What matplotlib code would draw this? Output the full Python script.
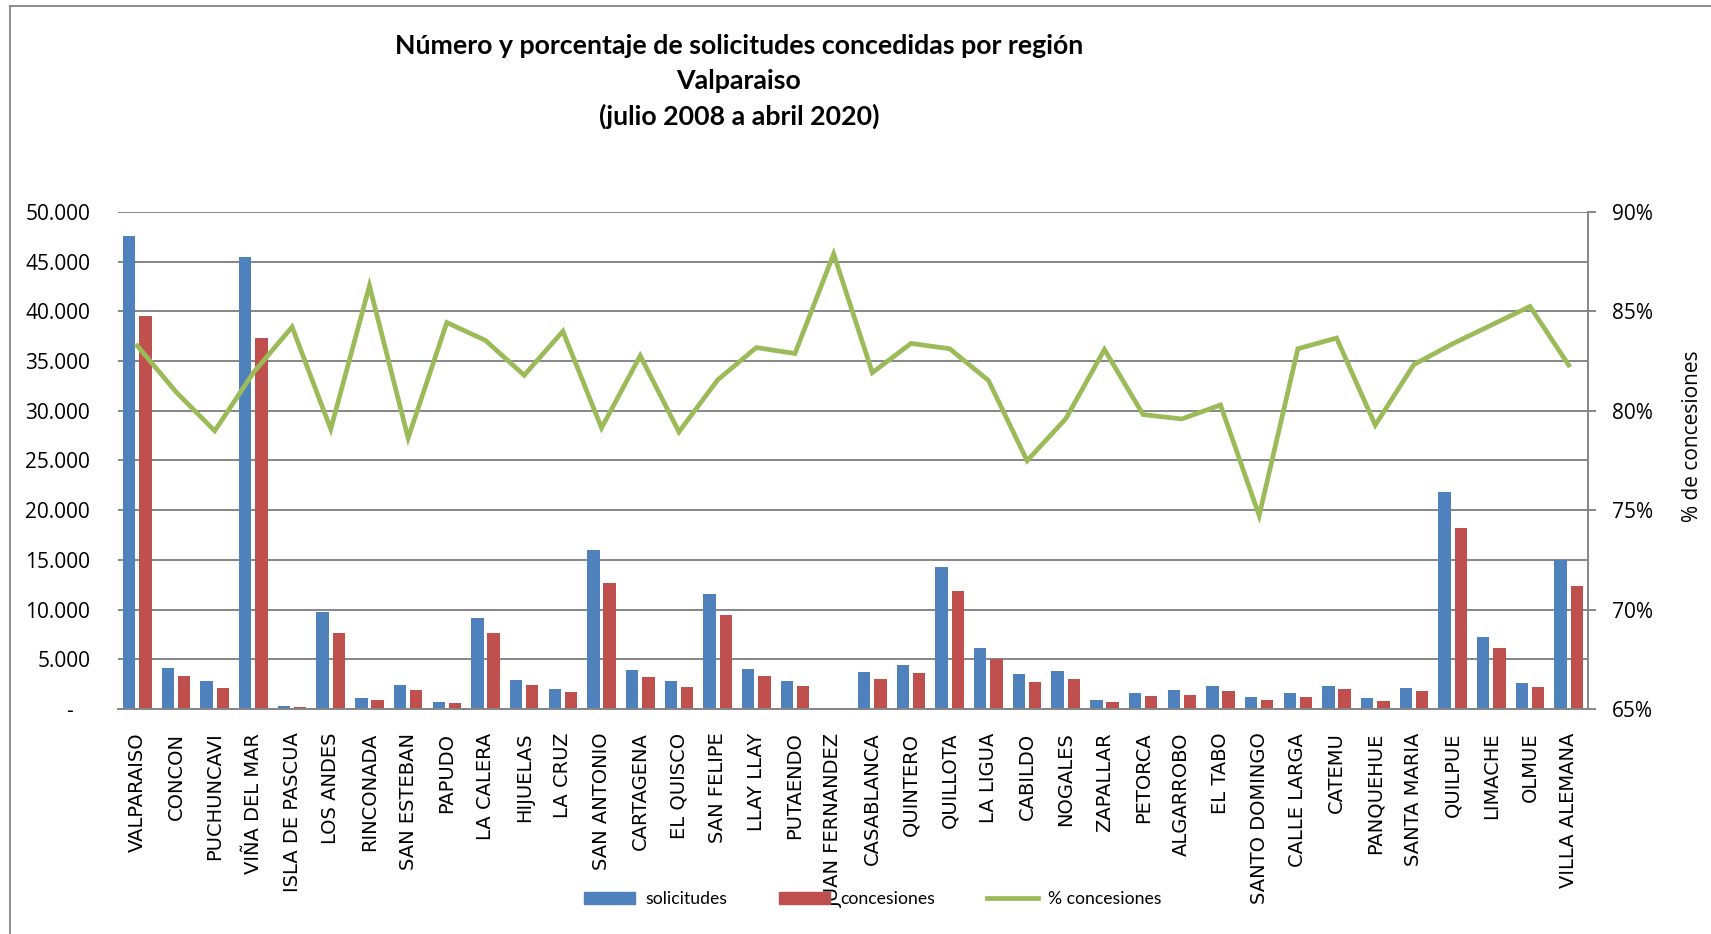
import matplotlib

matplotlib.use("Agg")
import matplotlib.pyplot as plt
import numpy as np
from matplotlib.lines import Line2D
from matplotlib.patches import Patch
from matplotlib.ticker import FuncFormatter, MultipleLocator

comunas = [
    "VALPARAISO", "CONCON", "PUCHUNCAVI", "VIÑA DEL MAR", "ISLA DE PASCUA",
    "LOS ANDES", "RINCONADA", "SAN ESTEBAN", "PAPUDO", "LA CALERA",
    "HIJUELAS", "LA CRUZ", "SAN ANTONIO", "CARTAGENA", "EL QUISCO",
    "SAN FELIPE", "LLAY LLAY", "PUTAENDO", "JUAN FERNANDEZ", "CASABLANCA",
    "QUINTERO", "QUILLOTA", "LA LIGUA", "CABILDO", "NOGALES",
    "ZAPALLAR", "PETORCA", "ALGARROBO", "EL TABO", "SANTO DOMINGO",
    "CALLE LARGA", "CATEMU", "PANQUEHUE", "SANTA MARIA", "QUILPUE",
    "LIMACHE", "OLMUE", "VILLA ALEMANA",
]
solicitudes = [
    47580, 4160, 2800, 45500, 310,
    9710, 1060, 2450, 720, 9170,
    2930, 2050, 16020, 3950, 2860,
    11520, 4020, 2800, 60, 3750,
    4430, 14250, 6140, 3550, 3850,
    920, 1600, 1910, 2280, 1230,
    1570, 2350, 1060, 2150, 21880,
    7290, 2590, 15030,
]
concesiones = [
    39570, 3370, 2150, 37320, 240,
    7640, 920, 1910, 580, 7670,
    2420, 1700, 12650, 3240, 2220,
    9410, 3310, 2350, 53, 3030,
    3610, 11830, 4980, 2730, 3000,
    720, 1300, 1430, 1770, 920,
    1230, 1980, 780, 1770, 18240,
    6140, 2220, 12410,
]
pct_concesiones = [
    83.27, 80.95, 78.99, 81.92, 84.22,
    79.08, 86.29, 78.63, 84.44, 83.54,
    81.79, 84.00, 79.14, 82.77, 78.94,
    81.55, 83.18, 82.88, 87.89, 81.92,
    83.39, 83.12, 81.53, 77.49, 79.60,
    83.08, 79.81, 79.59, 80.29, 74.73,
    83.12, 83.66, 79.28, 82.33, 83.37,
    84.31, 85.25, 82.30,
]

BLUE = "#4F81BD"
RED = "#C0504D"
GREEN = "#9BBB59"
GRID = "#868686"

W, H = 1711, 934
fig = plt.figure(figsize=(W / 100, H / 100), dpi=100)
ax = fig.add_axes([118 / W, 1 - 709 / H, (1588 - 118) / W, (709 - 212) / H])

x = np.arange(len(comunas))
bw = 0.32
ax.bar(x - 0.21, solicitudes, bw, color=BLUE, zorder=2)
ax.bar(x + 0.21, concesiones, bw, color=RED, zorder=2)

ax.set_xlim(-0.5, len(comunas) - 0.5)
ax.set_ylim(0, 50000)
ax.yaxis.set_major_locator(MultipleLocator(5000))
ax.yaxis.set_major_formatter(
    FuncFormatter(lambda v, p: "-   " if v == 0 else f"{int(v):,}".replace(",", "."))
)
ax.grid(axis="y", color=GRID, linewidth=1.4)
ax.set_axisbelow(True)
for s in ["top", "right", "left"]:
    ax.spines[s].set_visible(False)
ax.spines["bottom"].set_color(GRID)
ax.spines["bottom"].set_linewidth(1.4)

ax.set_xticks(x)
ax.set_xticklabels(comunas, rotation=90, fontsize=14, family="DejaVu Sans", va="top")
ax.tick_params(axis="x", length=0, pad=17)
ax.tick_params(axis="y", length=0, pad=20)
for lab in ax.get_yticklabels():
    lab.set_fontfamily("Open Sans")
    lab.set_fontsize(15)

ax2 = ax.twinx()
ax2.plot(x, np.array(pct_concesiones) / 100, color=GREEN, linewidth=3.4,
         solid_joinstyle="miter", zorder=3)
ax2.set_ylim(0.65, 0.90)
ax2.yaxis.set_major_locator(MultipleLocator(0.05))
ax2.yaxis.set_major_formatter(FuncFormatter(lambda v, p: f"{v * 100:.0f}%"))
for s in ["top", "left", "bottom"]:
    ax2.spines[s].set_visible(False)
ax2.spines["right"].set_color(GRID)
ax2.spines["right"].set_linewidth(1.4)
ax2.tick_params(axis="y", length=6, width=1.4, color=GRID, pad=11)
for lab in ax2.get_yticklabels():
    lab.set_fontfamily("Open Sans")
    lab.set_fontsize(15)

fig.text(1692 / W, 1 - 436 / H, "% de concesiones", rotation=90, ha="center",
         va="center", fontsize=15, family="Open Sans")

title_lines = [
    "Número y porcentaje de solicitudes concedidas por región",
    "Valparaiso",
    "(julio 2008 a abril 2020)",
]
for ty, line in zip([46, 81, 116], title_lines):
    fig.text(739 / W, 1 - ty / H, line, ha="center", va="center", fontsize=19.3,
             fontweight="bold", family="Lato")

handles = [
    Patch(color=BLUE, label="solicitudes"),
    Patch(color=RED, label="concesiones"),
    Line2D([], [], color=GREEN, linewidth=3.4, label="% concesiones"),
]
fig.legend(handles=handles, loc="center", bbox_to_anchor=(873 / W, 1 - 899 / H),
           ncol=3, frameon=False, prop={"family": "Lato", "size": 12.7},
           handlelength=2.9, handleheight=0.7, handletextpad=0.6, columnspacing=2.9)

# chart area border (left and top edges)
fig.add_artist(Line2D([10 / W, 10 / W], [0, 1 - 6 / H], color="#8C8C8C", linewidth=1.4))
fig.add_artist(Line2D([10 / W, 1], [1 - 6 / H, 1 - 6 / H], color="#8C8C8C", linewidth=1.4))

fig.savefig("out.png", dpi=100)
plt.close(fig)
